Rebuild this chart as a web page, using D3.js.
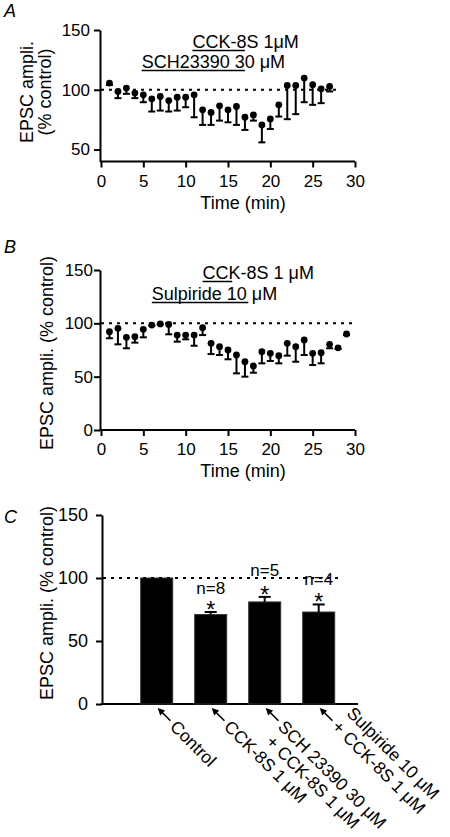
<!DOCTYPE html>
<html><head><meta charset="utf-8">
<script src="https://cdn.jsdelivr.net/npm/d3@7"></script>
<style>
body{margin:0;background:#fff;}
svg text{font-family:"Liberation Sans",Arial,Helvetica,sans-serif;fill:#000;}
</style></head><body>
<svg id="chart" width="450" height="837"></svg>
<script>
// ---------- Data ----------
const xTicks = [0, 5, 10, 15, 20, 25, 30];

// Panel A
const timeA = [1,2,3,4,5,6,7,8,9,10,11,12,13,14,15,16,17,18,19,20,21,22,23,24,25,26,27];
const meanA = [105.6,98.6,101.4,97.2,95.8,92.4,94.4,91.0,93.8,93.8,95.8,83.2,81.0,86.6,83.2,86.0,77.0,79.0,70.6,75.6,87.4,103.6,103.6,109.8,104.2,100.8,102.8];
const semA  = [1.6,5.6,4.8,4.2,6.2,10.6,11.8,9.2,11.2,8.4,18.8,12.6,10.4,12.4,10.4,15.4,10.6,4.8,14.6,8.4,9.8,28.2,24.0,20.2,16.8,12.0,4.2];
const yTicksA = [50, 100, 150];
const drugLabelA = ["CCK-8S 1μM", "SCH23390 30 μM"];
const drugStartA = [10.8, 4.8];
const drugEndA   = [17.0, 17.0];

// Panel B
const timeB = [1,2,3,4,5,6,7,8,9,10,11,12,13,14,15,16,17,18,19,20,21,22,23,24,25,26,27,28,29];
const meanB = [92.2,95.3,86.9,87.5,94.4,98.4,99.4,99.0,89.0,89.0,89.0,95.9,81.3,78.1,75.0,70.3,64.0,60.0,73.4,71.9,69.7,81.3,78.1,84.4,71.9,72.5,80.3,77.0,90.0];
const semB  = [6.2,15.0,10.3,5.6,7.5,0.4,0.4,9.3,6.2,4.0,10.0,6.9,10.1,7.8,8.7,17.2,14.0,6.3,10.9,7.2,7.2,11.6,14.1,14.1,11.0,10.0,3.7,1.0,1.0];
const yTicksB = [0, 50, 100, 150];
const drugLabelB = ["CCK-8S 1 μM", "Sulpiride 10 μM"];
const drugStartB = [12.0, 6.0];
const drugEndB   = [15.5, 17.4];

// Panel C
const categoriesC = ["Control", "CCK-8S", "SCH+CCK", "Sulp+CCK"];
const labelLine1C = ["Control", "CCK-8S 1 μM", "SCH 23390 30 μM", "Sulpiride 10 μM"];
const labelLine2C = ["", "", "+ CCK-8S 1 μM", "+ CCK-8S 1 μM"];
const valuesC = [100, 71, 81, 73];
const semC    = [0, 2, 4, 6];
const nLabelsC = ["", "n=8", "n=5", "n=4"];
const signifC  = [false, true, true, true];
const yTicksC = [0, 50, 100, 150];

// ---------- Drawing ----------
const svg = d3.select("#chart");
const FS = 17;

function styleAxis(g, fs) {
  g.select(".domain").attr("stroke-width", 2);
  g.selectAll(".tick line").attr("stroke-width", 2);
  g.selectAll(".tick text").attr("font-size", fs);
}

function dotted(x1, x2, y) {
  svg.append("line").attr("x1", x1).attr("x2", x2).attr("y1", y).attr("y2", y)
    .attr("stroke", "#000").attr("stroke-width", 2).attr("stroke-dasharray", "3,5");
}

function timePanel(o) {
  const x = d3.scaleLinear().domain([0, 30]).range([101, 355]);
  const y = d3.scaleLinear().domain(o.yDomain).range(o.yRange);
  dotted(101, o.dotEnd, y(100));
  const gy = svg.append("g").attr("transform", `translate(100,0)`)
    .call(d3.axisLeft(y).tickValues(o.yTicks).tickSize(6).tickPadding(o.yPad).tickSizeOuter(0));
  styleAxis(gy, FS);
  const gx = svg.append("g").attr("transform", `translate(0,${o.yRange[0]})`)
    .call(d3.axisBottom(x).tickValues(xTicks).tickSize(6).tickPadding(7).tickSizeOuter(0));
  styleAxis(gx, FS);
  gx.select(".domain").attr("d", `M100,0H355`);
  svg.append("text").attr("x", 243).attr("y", o.yRange[0] + 47).attr("text-anchor", "middle")
    .attr("font-size", 18).text("Time (min)");
  const g = svg.append("g");
  o.time.forEach((t, i) => {
    const cx = x(t), y0 = y(o.mean[i]), y1 = y(o.mean[i] - o.sem[i]);
    g.append("line").attr("x1", cx).attr("x2", cx).attr("y1", y0).attr("y2", y1)
      .attr("stroke", "#000").attr("stroke-width", 2);
    g.append("line").attr("x1", cx - 3.5).attr("x2", cx + 3.5).attr("y1", y1).attr("y2", y1)
      .attr("stroke", "#000").attr("stroke-width", 2);
    g.append("circle").attr("cx", cx).attr("cy", y0).attr("r", 3.4).attr("fill", "#000");
  });
  o.drugLabel.forEach((lab, i) => {
    const base = o.yRange[1] + o.drugBase[i];
    svg.append("text").attr("x", x(o.drugStart[i])).attr("y", base).attr("font-size", 18).text(lab);
    svg.append("line").attr("x1", x(o.drugStart[i])).attr("x2", x(o.drugEnd[i]))
      .attr("y1", base + 2.5).attr("y2", base + 2.5).attr("stroke", "#000").attr("stroke-width", 1.5);
  });
  svg.append("text").attr("x", 4).attr("y", o.letterY).attr("font-size", 18)
    .attr("font-style", "italic").text(o.letter);
}

timePanel({
  letter: "A", letterY: 17,
  yDomain: [40, 150], yRange: [161.5, 30], yTicks: yTicksA, yPad: 4, dotEnd: 340,
  time: timeA, mean: meanA, sem: semA,
  drugLabel: drugLabelA, drugStart: drugStartA, drugEnd: drugEndA, drugBase: [18, 38]
});
svg.append("text").attr("transform", "translate(33,92) rotate(-90)").attr("text-anchor", "middle")
  .attr("font-size", 18).text("EPSC ampli.");
svg.append("text").attr("transform", "translate(51,92) rotate(-90)").attr("text-anchor", "middle")
  .attr("font-size", 18).text("(% control)");

timePanel({
  letter: "B", letterY: 253,
  yDomain: [0, 150], yRange: [430, 270], yTicks: yTicksB, yPad: 1, dotEnd: 352,
  time: timeB, mean: meanB, sem: semB,
  drugLabel: drugLabelB, drugStart: drugStartB, drugEnd: drugEndB, drugBase: [9, 30]
});
svg.append("text").attr("transform", "translate(53,353) rotate(-90)").attr("text-anchor", "middle")
  .attr("font-size", 18).text("EPSC ampli. (% control)");

// ---------- Panel C ----------
{
  const xc = d3.scalePoint().domain(categoriesC).range([156.7, 318.7]);
  const y = d3.scaleLinear().domain([0, 150]).range([704, 515]);
  const bw = 32;
  svg.append("text").attr("x", 4).attr("y", 523).attr("font-size", 18)
    .attr("font-style", "italic").text("C");
  const gy = svg.append("g").attr("transform", "translate(102,0)")
    .call(d3.axisLeft(y).tickValues(yTicksC).tickSize(6).tickPadding(8).tickSizeOuter(0));
  styleAxis(gy, FS + 1);
  svg.append("line").attr("x1", 101).attr("x2", 358).attr("y1", 704).attr("y2", 704)
    .attr("stroke", "#000").attr("stroke-width", 2);
  svg.append("text").attr("transform", "translate(53,603) rotate(-90)").attr("text-anchor", "middle")
    .attr("font-size", 18).text("EPSC ampli. (% control)");

  categoriesC.forEach((c, i) => {
    const cx = xc(c);
    svg.append("rect").attr("x", cx - bw / 2).attr("y", y(valuesC[i]))
      .attr("width", bw).attr("height", y(0) - y(valuesC[i]))
      .attr("fill", "#000").attr("stroke", "#333").attr("stroke-width", 1);
    if (semC[i] > 0) {
      const yt = y(valuesC[i] + semC[i]);
      svg.append("line").attr("x1", cx).attr("x2", cx).attr("y1", y(valuesC[i])).attr("y2", yt)
        .attr("stroke", "#000").attr("stroke-width", 2);
      svg.append("line").attr("x1", cx - 6).attr("x2", cx + 6).attr("y1", yt).attr("y2", yt)
        .attr("stroke", "#000").attr("stroke-width", 2);
    }
  });
  dotted(103, 342, y(100));

  const nLift = [0, 11, 14, 12];
  categoriesC.forEach((c, i) => {
    if (!signifC[i]) return;
    const cx = xc(c);
    const starC = y(valuesC[i] + semC[i]) - 7;
    svg.append("text").attr("x", cx).attr("y", starC + 13).attr("text-anchor", "middle")
      .attr("font-size", 23).text("*");
    svg.append("text").attr("x", cx).attr("y", starC - nLift[i]).attr("text-anchor", "middle")
      .attr("font-size", 17).text(nLabelsC[i]);
  });

  categoriesC.forEach((c, i) => {
    const g = svg.append("g").attr("transform", `translate(${xc(c) + 1},708) rotate(45)`);
    g.append("line").attr("x1", 5).attr("x2", 18).attr("y1", 0).attr("y2", 0)
      .attr("stroke", "#000").attr("stroke-width", 1.6);
    g.append("path").attr("d", "M0,0L7,-3.5L7,3.5Z").attr("fill", "#000");
    if (labelLine2C[i] && i === 3) {
      g.append("text").attr("x", 23).attr("y", -14).attr("font-size", 17.5).text(labelLine1C[i]);
      g.append("text").attr("x", 22).attr("y", 6).attr("font-size", 17.5).text(labelLine2C[i]);
    } else {
      g.append("text").attr("x", 22).attr("y", 6).attr("font-size", 17.5).text(labelLine1C[i]);
      if (labelLine2C[i]) {
        g.append("text").attr("x", 24).attr("y", 25).attr("font-size", 17.5).text(labelLine2C[i]);
      }
    }
  });
}
</script>
</body></html>
